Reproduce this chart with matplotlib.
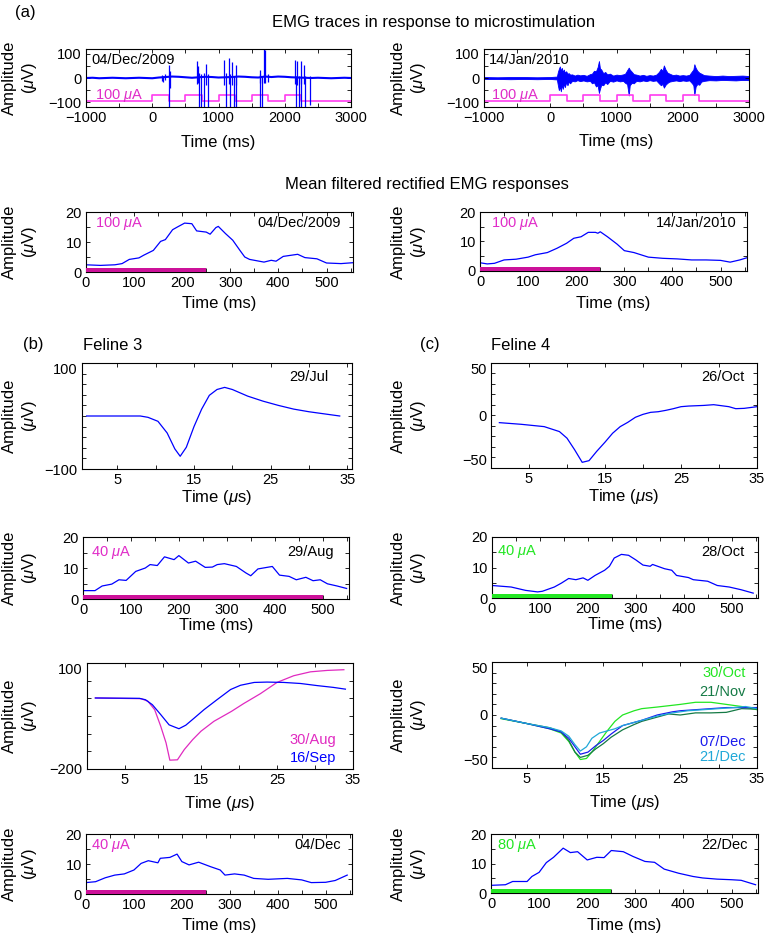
import matplotlib
matplotlib.use("Agg")
import matplotlib.pyplot as plt
import numpy as np

plt.rcParams['font.family'] = ['Liberation Sans', 'DejaVu Sans']
plt.rcParams['mathtext.fontset'] = 'custom'
plt.rcParams['mathtext.rm'] = 'Liberation Sans'
plt.rcParams['mathtext.it'] = 'Liberation Sans:italic'

BLUE = '#0000ff'
STIM_PINK = '#ff3cf0'
TXT_PINK = '#e02cc8'
BAR_PINK = '#cc1199'
MAGENTA = '#e02ac0'
GREEN = '#22e622'
DKGREEN = '#157a45'
CYAN = '#20a8d8'
BLUE2 = '#1a1aee'

# ---------------- (a) raw EMG traces ----------------
stim_on_ms = [0, 500, 1000, 1500, 2000]
stim_len_ms = 250
stim_level = (-96, -72)

# 04/Dec/2009 : baseline + individual spikes
raw1_base_t = np.arange(-1000, 3001, 100)
raw1_base_v = [0, 1, -1, 0, 1, 0, -1, 0, 1, 0, -1, 2, 4, 6, 5, 3, 1, 3, 5, 4, 2,
               3, 4, 6, 5, 3, 2, 6, 4, 6, 5, 3, 2, 1, 0, 1, 0, -1, 0, 1, 0]
spk1_t = [140, 165, 190, 250, 262, 668, 688, 703, 738, 777, 817, 837, 1089, 1114,
          1158, 1173, 1208, 1233, 1257, 1262, 1619, 1624, 1653, 1688, 1708, 1750,
          2153, 2163, 2188, 2213, 2238, 2252, 2287, 2302, 2386]
spk1_lo = [-12, -18, -10, -130, -40, -25, -20, -130, -130, -130, -30, -130, -30, -130,
           -25, -130, -30, -130, -30, -130, -130, -20, -130, -20, -20, -15,
           -25, -130, -30, -130, -25, -130, -25, -130, -110]
spk1_hi = [12, 10, 15, 55, 30, 70, 48, 20, 15, 20, 58, 15, 76, 20,
           83, 15, 66, 10, 55, 10, 15, 34, 10, 120, 114, 15,
           76, 10, 72, 10, 69, 10, 55, 10, 10]

# 14/Jan/2010 : envelope of the noisy trace
env2_t = [-1000, -800, -600, -400, -200, 0, 100, 115, 130, 145, 160, 175, 190, 205, 220,
          240, 260, 280, 300, 330, 370, 410, 450, 500, 550, 600, 630, 660, 690, 715, 735,
          750, 770, 800, 830, 860, 900, 950, 1000, 1050, 1100, 1130, 1160, 1185, 1200,
          1230, 1260, 1300, 1350, 1400, 1450, 1500, 1550, 1600, 1640, 1670, 1695, 1715,
          1740, 1770, 1800, 1850, 1900, 1950, 2000, 2050, 2100, 2140, 2160, 2175, 2195,
          2220, 2250, 2280, 2320, 2400, 2500, 2600, 2700, 2800, 2900, 3000]
env2_lo = [-4, -4, -5, -4, -5, -4, -6, -30, -50, -35, -55, -28, -45, -22, -38,
           -18, -30, -15, -22, -12, -14, -9, -13, -10, -14, -12, -22, -18, -35, -30, -62,
           -45, -28, -30, -18, -25, -12, -15, -10, -14, -12, -20, -25, -72, -30,
           -20, -22, -12, -14, -10, -13, -9, -12, -10, -22, -30, -25, -40,
           -28, -20, -15, -12, -10, -13, -10, -12, -10, -22, -30, -70, -35,
           -25, -28, -15, -12, -9, -10, -8, -9, -10, -8, -9]
env2_hi = [4, 3, 4, 4, 3, 4, 6, 25, 38, 48, 30, 42, 25, 35, 22,
           28, 18, 20, 14, 15, 10, 14, 11, 13, 9, 16, 18, 30, 28, 45, 70,
           40, 35, 20, 25, 15, 18, 10, 14, 12, 15, 18, 32, 43, 35,
           26, 16, 14, 10, 13, 9, 12, 10, 14, 25, 38, 30, 52,
           35, 22, 18, 12, 14, 10, 12, 10, 13, 28, 35, 57, 42,
           30, 22, 18, 12, 10, 8, 10, 8, 9, 10, 8]

# ---------------- mean filtered rectified EMG ----------------
m1_t = [0, 30, 60, 75, 90, 110, 120, 140, 155, 165, 180, 190, 205, 220, 230, 250, 258,
        270, 275, 290, 305, 320, 330, 340, 370, 385, 395, 410, 440, 455, 480, 500, 530, 555]
m1_v = [2.4, 2.2, 2.4, 2.8, 4.2, 4.7, 5.6, 7.2, 10.2, 10.8, 14.1, 15.0, 16.3, 16.1, 13.7,
        13.3, 12.6, 14.8, 15.2, 12.8, 10.6, 7.2, 5.0, 4.2, 3.3, 3.9, 3.6, 5.2, 5.9, 4.8,
        4.4, 3.0, 2.8, 3.1]
m2_t = [0, 15, 30, 50, 75, 100, 115, 140, 160, 180, 195, 210, 225, 240, 245, 250, 265,
        285, 300, 320, 350, 380, 410, 440, 470, 500, 520, 540, 555]
m2_v = [2.8, 2.4, 2.6, 3.75, 4.0, 4.7, 5.5, 6.25, 7.7, 9.4, 11.1, 11.6, 13.1, 13.1, 12.8,
        13.3, 11.6, 9.1, 6.9, 6.25, 4.7, 4.3, 4.1, 3.75, 3.75, 3.6, 3.0, 3.75, 4.5]

# ---------------- (b) Feline 3 ----------------
w29jul_t = [1, 8, 9, 10.3, 11.5, 12.5, 13.2, 14, 15, 16, 17, 18, 19, 20, 22, 24, 26, 28, 30, 32, 34]
w29jul_v = [0, 0, -2.5, -10, -32, -62, -76, -59, -20, 13, 39, 50, 54, 50, 37.5, 28, 20, 13, 8, 4, 0]

m29aug_t = [0, 25, 40, 60, 75, 90, 110, 130, 140, 155, 170, 190, 200, 220, 235, 255, 270,
            280, 295, 320, 340, 350, 365, 395, 410, 430, 445, 465, 480, 495, 510, 530, 550]
m29aug_v = [2.7, 2.7, 4.2, 4.8, 6.2, 6.0, 8.9, 10.0, 11.1, 10.8, 13.6, 12.7, 14.0, 11.6,
            12.2, 10.2, 10.3, 11.1, 11.4, 10.5, 8.4, 7.5, 9.7, 10.5, 7.7, 7.3, 6.2, 7.0,
            5.9, 6.2, 4.9, 4.2, 3.4]

w30aug_t = [1.1, 7.1, 8, 8.9, 9.7, 10.4, 10.9, 11.9, 12.8, 13.9, 15, 16.7, 19, 20.6, 22.8,
            25, 27.2, 29.4, 31.6, 33.8]
w30aug_v = [1, -1, -8, -32, -79, -126, -175, -174, -145, -117, -93, -65, -37, -15, 13,
            45, 64, 75, 79, 81]
w16sep_t = [1.1, 6.9, 7.7, 8.6, 9.7, 10.8, 11.5, 12.1, 13, 14.1, 15.4, 17.1, 18.9, 20.2,
            22, 23.7, 25.9, 28.1, 30.3, 32.4, 34]
w16sep_v = [1, 0, -4, -18, -46, -75, -81, -86, -76, -56, -32, -4, 25, 37, 45, 46, 45, 42,
            36, 31, 26]

m04dec_t = [0, 20, 40, 60, 80, 100, 115, 130, 150, 155, 175, 190, 200, 215, 235, 260, 280,
            290, 310, 330, 350, 380, 420, 450, 470, 500, 520, 545]
m04dec_v = [3.8, 4.1, 5.4, 6.3, 6.7, 8.0, 10.2, 11.1, 10.4, 11.9, 12.2, 13.3, 10.8, 9.7,
            10.6, 9.1, 8.0, 6.3, 6.7, 6.3, 5.2, 4.9, 5.2, 4.7, 3.8, 3.9, 4.5, 6.3]

# ---------------- (c) Feline 4 ----------------
w26oct_t = [1.1, 4, 7, 9, 10, 11, 12, 12.9, 13.9, 15, 16, 17, 18, 19, 20, 21, 22, 23, 24,
            25, 26, 28, 29.3, 31.3, 32.2, 33.3, 35]
w26oct_v = [-6.8, -8.4, -10.6, -15.3, -21.6, -32.6, -44.6, -43, -34.2, -25.4, -16.9,
            -10.6, -6.5, -1.7, 1.1, 3.0, 3.6, 4.9, 6.5, 8.4, 9.0, 9.6, 10.3, 8.4, 6.5, 6.8, 8.4]

m28oct_t = [0, 40, 70, 95, 105, 130, 145, 160, 175, 190, 200, 215, 235, 245, 255, 270, 285,
            300, 315, 330, 335, 360, 375, 385, 410, 420, 450, 470, 495, 520, 545]
m28oct_v = [4.1, 3.6, 2.5, 2.0, 2.2, 3.6, 4.9, 6.4, 6.0, 6.6, 5.8, 7.4, 9.1, 10.4, 13.1,
            14.3, 14.0, 12.5, 10.8, 10.4, 11.0, 9.6, 9.1, 7.4, 6.7, 6.0, 5.5, 4.1, 3.6, 2.7, 1.6]

w30oct_t = [1.7, 5, 8, 9.5, 10.5, 11.3, 12, 12.8, 13.5, 14.5, 15.5, 16.5, 17.5, 19, 20, 22,
            25, 27, 29, 31, 33, 35]
w30oct_v = [-3.5, -8, -13, -17, -25, -35, -42, -41, -35, -25, -15, -6, 0, 4, 6, 7.5, 10,
            12, 12, 10, 8, 5]
w21nov_t = [1.7, 5, 8, 9.5, 10.5, 11.3, 12, 13, 14, 15, 16, 17.5, 19, 20, 22, 23.5, 25, 27,
            29, 31, 33, 35]
w21nov_v = [-3, -8, -12, -16, -24, -35, -40, -38, -32, -27, -21, -14, -9, -6, -2, 1, 0, 2,
            2, 2.5, 6, 5.5]
w07dec_t = [1.7, 5, 8, 9.5, 10.5, 11.3, 12, 13, 14, 15, 16, 17.5, 19, 20, 22, 24, 25, 27,
            29, 31, 33, 35]
w07dec_v = [-3, -8, -13, -16, -22, -30, -37, -35, -29, -24, -18, -10, -7, -5, 0, 3, 4, 5,
            6, 7, 7, 7]
w21dec_t = [1.7, 5, 8, 9.5, 10.5, 11.3, 12, 12.8, 13.5, 14.5, 15.5, 16.5, 17.5, 19, 20, 22,
            24, 26, 28, 30, 32, 33.5, 35]
w21dec_v = [-3, -8, -12, -15, -20, -28, -34, -30, -22, -17, -15, -13, -10, -7, -5, -1, 2,
            4, 5, 6, 7, 8, 6]

m22dec_t = [0, 30, 45, 65, 75, 85, 100, 115, 130, 150, 165, 180, 200, 220, 235, 250, 275,
            295, 320, 340, 360, 390, 420, 440, 470, 500, 520, 550]
m22dec_v = [2.6, 2.8, 3.9, 3.9, 3.9, 5.6, 7.0, 10.3, 12.1, 15.2, 13.7, 14.0, 11.2, 12.1,
            12.0, 14.4, 14.0, 12.4, 10.7, 10.4, 8.1, 6.7, 5.6, 5.1, 4.7, 4.5, 4.3, 2.8]

# ---------------- figure ----------------
W, H = 769, 938
fig = plt.figure(figsize=(W / 100, H / 100), dpi=100)


def make_ax(l, t, r, b):
    return fig.add_axes([l / W, 1 - b / H, (r - l) / W, (b - t) / H])


def fmt(v):
    return f'{v:g}'.replace('-', '\u2212')


def style(ax, box, xt, xshow, yt, yshow, xlab, ylab_x, xlab_off):
    l, t, r, b = box
    ax.set_xticks(xt)
    ax.set_xticklabels([fmt(v) if v in xshow else '' for v in xt])
    ax.set_yticks(yt)
    ax.set_yticklabels([fmt(v) if v in yshow else '' for v in yt])
    ax.tick_params(direction='in', top=True, right=True, length=3, width=0.6,
                   labelsize=10.5, pad=3)
    for s in ax.spines.values():
        s.set_linewidth(0.8)
    ax.set_xlabel(xlab, fontsize=12, va='top')
    ax.xaxis.set_label_coords(0.5, -(xlab_off - 9) / (b - t))
    ax.set_ylabel('Amplitude\n($\\mu$V)', fontsize=12)
    ax.yaxis.set_label_coords((ylab_x - l) / (r - l), 0.5)


def inset_end_labels(ax, top=True, bottom=False):
    labs = ax.get_yticklabels()
    if top:
        labs[-1].set_va('top')
    if bottom:
        labs[0].set_va('bottom')


def put(ax, s, corner, dx, dy, color='k'):
    ha = 'left' if corner[0] == 0 else 'right'
    ax.annotate(s, xy=corner, xycoords='axes fraction', xytext=(dx, dy),
                textcoords='offset pixels', ha=ha, va='center', color=color, fontsize=10.5)


def stim_steps(t0, t1):
    xs, ys = [t0], [stim_level[0]]
    for s in stim_on_ms:
        xs += [s, s, s + stim_len_ms, s + stim_len_ms]
        ys += [stim_level[0], stim_level[1], stim_level[1], stim_level[0]]
    xs.append(t1)
    ys.append(stim_level[0])
    return xs, ys


raw_xt = list(range(-1000, 3001, 500))
raw_xs = [-1000, 0, 1000, 2000, 3000]
raw_yt = [-100, -50, 0, 50, 100]
mean_xt = list(range(0, 551, 50))
mean_xs = [0, 100, 200, 300, 400, 500]
mean_yt = [0, 5, 10, 15, 20]
mean_ys = [0, 10, 20]
wave_xt = [5, 10, 15, 20, 25, 30, 35]
wave_xs = [5, 15, 25, 35]

fig.text(25 / W, 1 - 13 / H, '(a)', fontsize=12, ha='center', va='center')
fig.text(434 / W, 1 - 22 / H, 'EMG traces in response to microstimulation',
         fontsize=12, ha='center', va='center')
fig.text(427 / W, 1 - 185 / H, 'Mean filtered rectified EMG responses',
         fontsize=12, ha='center', va='center')
fig.text(33 / W, 1 - 345 / H, '(b)', fontsize=12, ha='center', va='center')
fig.text(83 / W, 1 - 345 / H, 'Feline 3', fontsize=12, ha='left', va='center')
fig.text(430 / W, 1 - 345 / H, '(c)', fontsize=12, ha='center', va='center')
fig.text(491 / W, 1 - 345 / H, 'Feline 4', fontsize=12, ha='left', va='center')

# raw panels
box = (86, 49, 351, 107)
ax = make_ax(*box)
sx, sy = stim_steps(-1000, 3000)
ax.plot(sx, sy, color=STIM_PINK, lw=1.2)
ax.plot(raw1_base_t, raw1_base_v, color=BLUE, lw=1.5)
ax.vlines(spk1_t, spk1_lo, spk1_hi, color=BLUE, lw=0.9)
ax.set_xlim(-1000, 3000)
ax.set_ylim(-120, 120)
style(ax, box, raw_xt, raw_xs, raw_yt, [-100, 0, 100], 'Time (ms)', 39, 37)
put(ax, '04/Dec/2009', (0, 1), 5, -11)
put(ax, '100 $\\mu$A', (0, 0), 9, 11, TXT_PINK)

box = (484, 49, 749, 107)
ax = make_ax(*box)
ax.plot(sx, sy, color=STIM_PINK, lw=1.2)
ax.fill_between(env2_t, env2_lo, env2_hi, color=BLUE, lw=0.6)
ax.set_xlim(-1000, 3000)
ax.set_ylim(-120, 120)
style(ax, box, raw_xt, raw_xs, raw_yt, [-100, 0, 100], 'Time (ms)', 428, 36)
put(ax, '14/Jan/2010', (0, 1), 5, -11)
put(ax, '100 $\\mu$A', (0, 0), 7, 11, TXT_PINK)


def mean_panel(box, t, v, stim_end, bar_col, amp, date, amp_dx, dy, date_dx, ylab_x, xoff):
    ax = make_ax(*box)
    ax.fill_between([0, stim_end], 0, 1.3, color=bar_col, lw=0, zorder=3)
    ax.plot(t, v, color=BLUE, lw=0.9)
    ax.set_xlim(0, 555)
    ax.set_ylim(0, 20)
    style(ax, box, mean_xt, mean_xs, mean_yt, mean_ys, 'Time (ms)', ylab_x, xoff)
    txt_col = TXT_PINK if bar_col == BAR_PINK else GREEN
    put(ax, amp, (0, 1), amp_dx, -dy, txt_col)
    put(ax, date, (1, 1), -date_dx, -dy)
    return ax


mean_panel((86, 212, 353, 272), m1_t, m1_v, 250, BAR_PINK, '100 $\\mu$A', '04/Dec/2009',
           9, 11, 12, 39, 33)
mean_panel((480, 212, 747, 271), m2_t, m2_v, 250, BAR_PINK, '100 $\\mu$A', '14/Jan/2010',
           11, 11, 10, 428, 34)

# (b) Feline 3
box = (82, 363, 352, 469)
ax = make_ax(*box)
ax.plot(w29jul_t, w29jul_v, color=BLUE, lw=0.9)
ax.set_xlim(0.4, 35.6)
ax.set_ylim(-100, 100)
style(ax, box, wave_xt, wave_xs, list(range(-100, 101, 20)), [-100, 100],
      'Time ($\\mu$s)', 39, 28)
inset_end_labels(ax)
put(ax, '29/Jul', (1, 1), -23, -14)

mean_panel((83, 537, 349, 599), m29aug_t, m29aug_v, 500, BAR_PINK, '40 $\\mu$A', '29/Aug',
           8, 15, 15, 39, 28)

box = (87, 663, 353, 769)
ax = make_ax(*box)
ax.plot(w30aug_t, w30aug_v, color=MAGENTA, lw=0.9)
ax.plot(w16sep_t, w16sep_v, color=BLUE, lw=0.9)
ax.set_xlim(0, 35)
ax.set_ylim(-200, 100)
style(ax, box, wave_xt, wave_xs, list(range(-200, 101, 50)), [-200, 100],
      'Time ($\\mu$s)', 39, 34)
inset_end_labels(ax)
put(ax, '30/Aug', (1, 0), -17, 29, MAGENTA)
put(ax, '16/Sep', (1, 0), -17, 11, BLUE)

mean_panel((86, 834, 352, 894), m04dec_t, m04dec_v, 250, BAR_PINK, '40 $\\mu$A', '04/Dec',
           5, 11, 11, 39, 33)

# (c) Feline 4
box = (491, 363, 757, 468)
ax = make_ax(*box)
ax.plot(w26oct_t, w26oct_v, color=BLUE, lw=0.9)
ax.set_xlim(0, 35)
ax.set_ylim(-50, 50)
style(ax, box, wave_xt, wave_xs, list(range(-50, 51, 10)), [-50, 0, 50],
      'Time ($\\mu$s)', 428, 28)
inset_end_labels(ax, True, True)
put(ax, '26/Oct', (1, 1), -12, -14)

mean_panel((492, 537, 758, 598), m28oct_t, m28oct_v, 250, GREEN, '40 $\\mu$A', '28/Oct',
           5, 15, 13, 428, 28)

box = (492, 662, 757, 768)
ax = make_ax(*box)
ax.plot(w30oct_t, w30oct_v, color=GREEN, lw=0.9)
ax.plot(w21nov_t, w21nov_v, color=DKGREEN, lw=0.9)
ax.plot(w07dec_t, w07dec_v, color=BLUE2, lw=0.9)
ax.plot(w21dec_t, w21dec_v, color=CYAN, lw=0.9)
ax.set_xlim(0.5, 35)
ax.set_ylim(-50, 50)
style(ax, box, wave_xt, wave_xs, list(range(-50, 51, 10)), [-50, 0, 50],
      'Time ($\\mu$s)', 428, 34)
inset_end_labels(ax, True, True)
put(ax, '30/Oct', (1, 1), -11, -11, GREEN)
put(ax, '21/Nov', (1, 1), -11, -30, DKGREEN)
put(ax, '07/Dec', (1, 0), -11, 26, BLUE2)
put(ax, '21/Dec', (1, 0), -11, 11, CYAN)

mean_panel((491, 834, 758, 893), m22dec_t, m22dec_v, 250, GREEN, '80 $\\mu$A', '22/Dec',
           6, 11, 10, 428, 34)

fig.savefig('out.png', dpi=100)
